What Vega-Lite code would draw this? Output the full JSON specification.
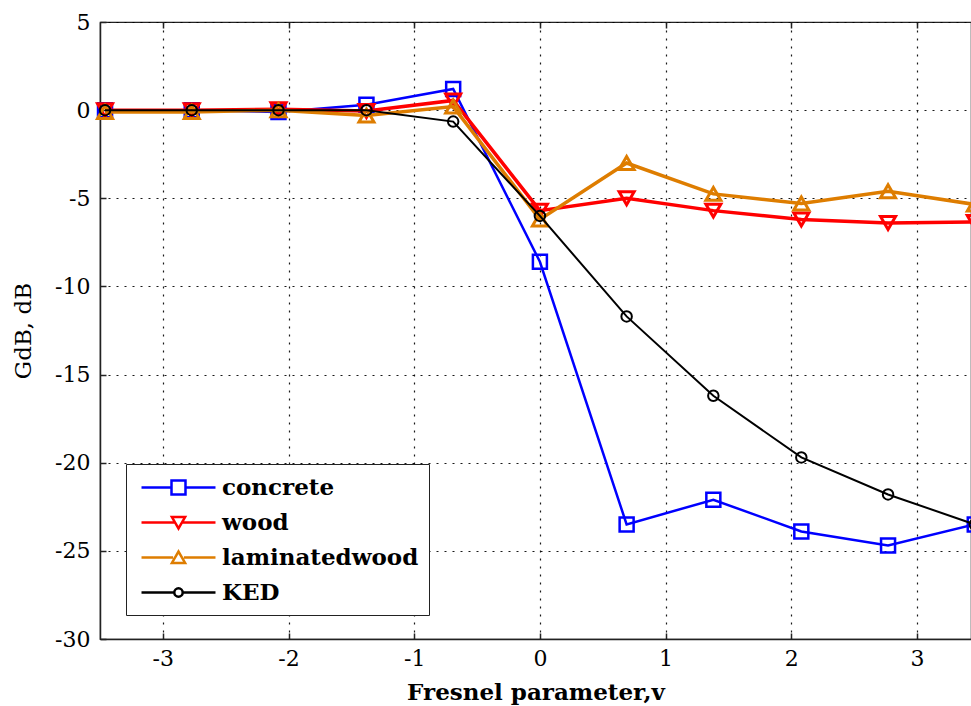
{
  "$schema": "https://vega.github.io/schema/vega-lite/v6.json",
  "width": 871,
  "height": 617,
  "autosize": {"type": "none"},
  "padding": {"left": 100, "top": 22, "right": 0, "bottom": 67},
  "background": "white",
  "config": {
    "view": {"stroke": "#222", "strokeWidth": 1.2},
    "axis": {
      "labelFont": "DejaVu Serif", "labelFontSize": 22, "labelColor": "black",
      "titleFont": "DejaVu Serif", "titleColor": "black",
      "domainColor": "#222", "domainWidth": 1.5,
      "tickColor": "#222", "tickWidth": 1.5, "tickSize": -6,
      "gridColor": "black", "gridDash": [2, 6], "gridWidth": 1.2, "gridOpacity": 0.9
    }
  },
  "datasets": {
    "d": [
      {"series": "concrete", "v": -3.46, "g": 0},
      {"series": "concrete", "v": -2.77, "g": 0},
      {"series": "concrete", "v": -2.08, "g": -0.1},
      {"series": "concrete", "v": -1.38, "g": 0.3},
      {"series": "concrete", "v": -0.69, "g": 1.2},
      {"series": "concrete", "v": 0, "g": -8.6},
      {"series": "concrete", "v": 0.69, "g": -23.5},
      {"series": "concrete", "v": 1.38, "g": -22.1},
      {"series": "concrete", "v": 2.08, "g": -23.9},
      {"series": "concrete", "v": 2.77, "g": -24.7},
      {"series": "concrete", "v": 3.46, "g": -23.5},
      {"series": "wood", "v": -3.46, "g": 0},
      {"series": "wood", "v": -2.77, "g": 0},
      {"series": "wood", "v": -2.08, "g": 0.05},
      {"series": "wood", "v": -1.38, "g": -0.05},
      {"series": "wood", "v": -0.69, "g": 0.55},
      {"series": "wood", "v": 0, "g": -5.7},
      {"series": "wood", "v": 0.69, "g": -5.0},
      {"series": "wood", "v": 1.38, "g": -5.7},
      {"series": "wood", "v": 2.08, "g": -6.2},
      {"series": "wood", "v": 2.77, "g": -6.4},
      {"series": "wood", "v": 3.46, "g": -6.35},
      {"series": "laminatedwood", "v": -3.46, "g": -0.1},
      {"series": "laminatedwood", "v": -2.77, "g": -0.1},
      {"series": "laminatedwood", "v": -2.08, "g": 0},
      {"series": "laminatedwood", "v": -1.38, "g": -0.3},
      {"series": "laminatedwood", "v": -0.69, "g": 0.2},
      {"series": "laminatedwood", "v": 0, "g": -6.2},
      {"series": "laminatedwood", "v": 0.69, "g": -3.0},
      {"series": "laminatedwood", "v": 1.38, "g": -4.75},
      {"series": "laminatedwood", "v": 2.08, "g": -5.3},
      {"series": "laminatedwood", "v": 2.77, "g": -4.6},
      {"series": "laminatedwood", "v": 3.46, "g": -5.35},
      {"series": "KED", "v": -3.46, "g": 0},
      {"series": "KED", "v": -2.77, "g": 0},
      {"series": "KED", "v": -2.08, "g": 0},
      {"series": "KED", "v": -1.38, "g": 0},
      {"series": "KED", "v": -0.69, "g": -0.65},
      {"series": "KED", "v": 0, "g": -6.0},
      {"series": "KED", "v": 0.69, "g": -11.7},
      {"series": "KED", "v": 1.38, "g": -16.2},
      {"series": "KED", "v": 2.08, "g": -19.7},
      {"series": "KED", "v": 2.77, "g": -21.8},
      {"series": "KED", "v": 3.46, "g": -23.5}
    ]
  },
  "data": {"name": "d"},
  "encoding": {
    "x": {"field": "v", "type": "quantitative", "scale": {"domain": [-3.5, 3.43], "nice": false, "zero": false}, "axis": null},
    "y": {"field": "g", "type": "quantitative", "scale": {"domain": [-30, 5], "nice": false, "zero": false}}
  },
  "layer": [
    {
      "transform": [{"filter": "datum.series === 'concrete'"}],
      "encoding": {
        "x": {"field": "v", "type": "quantitative", "scale": {"domain": [-3.5, 3.43], "nice": false, "zero": false},
          "axis": {"values": [-3, -2, -1, 0, 1, 2, 3], "title": "Fresnel parameter,v", "titleFontSize": 23, "titleFontWeight": "bold", "labelExpr": "'' + datum.value", "labelPadding": 15, "titlePadding": 12}},
        "y": {"field": "g", "type": "quantitative", "scale": {"domain": [-30, 5], "nice": false, "zero": false},
          "axis": {"values": [-30, -25, -20, -15, -10, -5, 0, 5], "title": "GdB, dB", "titleFontSize": 23, "titleFontWeight": "normal", "labelExpr": "'' + datum.value", "labelPadding": 16, "titlePadding": 19}}
      },
      "layer": [
        {"mark": {"type": "line", "color": "#0000FF", "strokeWidth": 2.5}},
        {"mark": {"type": "point", "shape": "square", "size": 196, "filled": false, "color": "#0000FF", "strokeWidth": 2.5, "opacity": 1}}
      ]
    },
    {
      "transform": [{"filter": "datum.series === 'wood'"}],
      "layer": [
        {"mark": {"type": "line", "color": "#FF0000", "strokeWidth": 3.5}},
        {"mark": {"type": "point", "shape": "triangle-down", "size": 225, "filled": false, "color": "#FF0000", "strokeWidth": 3, "opacity": 1}}
      ]
    },
    {
      "transform": [{"filter": "datum.series === 'laminatedwood'"}],
      "layer": [
        {"mark": {"type": "line", "color": "#DE7D00", "strokeWidth": 3.5}},
        {"mark": {"type": "point", "shape": "triangle-up", "size": 225, "filled": false, "color": "#DE7D00", "strokeWidth": 3, "opacity": 1}}
      ]
    },
    {
      "transform": [{"filter": "datum.series === 'KED'"}],
      "layer": [
        {"mark": {"type": "line", "color": "black", "strokeWidth": 2}},
        {"mark": {"type": "point", "shape": "circle", "size": 110, "filled": false, "color": "black", "strokeWidth": 2, "opacity": 1}}
      ]
    },
    {
      "transform": [{"filter": "datum.v > 100"}],
      "mark": {"type": "point", "filled": false, "opacity": 1},
      "encoding": {
        "x": {"field": "v", "type": "quantitative", "scale": {"domain": [-3.5, 3.43], "nice": false, "zero": false},
          "axis": {"orient": "top", "values": [-3, -2, -1, 0, 1, 2, 3], "labels": false, "domain": false, "grid": false, "title": null}},
        "color": {"field": "series", "type": "nominal",
          "scale": {"domain": ["concrete", "wood", "laminatedwood", "KED"], "range": ["#0000FF", "#FF0000", "#DE7D00", "black"]},
          "legend": {"orient": "none", "legendX": 26, "legendY": 442, "title": null, "strokeColor": "#222", "fillColor": "white", "padding": 10,
            "labelFont": "DejaVu Serif", "labelFontWeight": "bold", "labelFontSize": 23, "labelColor": "black", "labelLimit": 400,
            "symbolSize": 576, "symbolStrokeWidth": 2.5, "symbolOffset": 29, "labelOffset": 30, "rowPadding": 9}},
        "shape": {"field": "series", "type": "nominal",
          "scale": {"domain": ["concrete", "wood", "laminatedwood", "KED"],
            "range": [
              "M-3.083,0H-0.583M0.583,0H3.083M-0.583,-0.583H0.583V0.583H-0.583Z",
              "M-3.083,0H-0.3M0.3,0H3.083M-0.55,-0.45H0.55L0,0.5Z",
              "M-3.083,0H-0.45M0.45,0H3.083M-0.55,0.45H0.55L0,-0.5Z",
              "M-3.083,0H-0.35M0.35,0H3.083M0.35,0A0.35,0.35,0,1,1,-0.35,0A0.35,0.35,0,1,1,0.35,0"
            ]},
          "legend": {"orient": "none", "legendX": 26, "legendY": 442, "title": null, "strokeColor": "#222", "fillColor": "white", "padding": 10,
            "labelFont": "DejaVu Serif", "labelFontWeight": "bold", "labelFontSize": 23, "labelColor": "black", "labelLimit": 400,
            "symbolSize": 576, "symbolStrokeWidth": 2.5, "symbolOffset": 29, "labelOffset": 30, "rowPadding": 9}}
      }
    }
  ],
  "resolve": {"axis": {"x": "independent"}}
}
